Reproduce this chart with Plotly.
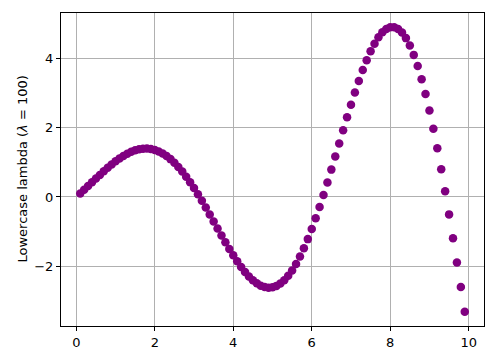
import plotly.graph_objects as go

x_values = [round(0.1 * i, 1) for i in range(1, 100)]
y_values = [
    0.102, 0.207, 0.314, 0.422, 0.530, 0.637, 0.741, 0.842, 0.938, 1.028,
    1.111, 1.185, 1.250, 1.304, 1.346, 1.377, 1.393, 1.396, 1.384, 1.356,
    1.314, 1.255, 1.181, 1.092, 0.987, 0.867, 0.733, 0.586, 0.427, 0.257,
    0.077, -0.111, -0.305, -0.504, -0.706, -0.909, -1.110, -1.308, -1.500, -1.684,
    -1.858, -2.019, -2.165, -2.294, -2.404, -2.493, -2.560, -2.602, -2.618, -2.607,
    -2.567, -2.500, -2.402, -2.276, -2.120, -1.935, -1.722, -1.482, -1.217, -0.928,
    -0.617, -0.287, 0.059, 0.419, 0.789, 1.166, 1.546, 1.925, 2.299, 2.664,
    3.016, 3.350, 3.662, 3.948, 4.204, 4.425, 4.610, 4.752, 4.850, 4.900,
    4.901, 4.850, 4.745, 4.585, 4.371, 4.101, 3.777, 3.400, 2.971, 2.493,
    1.970, 1.404, 0.800, 0.163, -0.503, -1.189, -1.891, -2.602, -3.314,
]
x_ticks = [0, 2, 4, 6, 8, 10]
y_ticks = [-2, 0, 2, 4]
y_label = "Lowercase lambda (<i>λ</i> = 100)"

fig = go.Figure(go.Scatter(
    x=x_values, y=y_values, mode="markers",
    marker=dict(color="#800080", size=8.5, line=dict(width=0)),
))

axis_common = dict(
    showgrid=True, gridcolor="#b0b0b0", gridwidth=1,
    showline=True, linecolor="black", linewidth=1, mirror=True,
    ticks="outside", ticklen=4, tickcolor="black", zeroline=False,
    tickfont=dict(family="DejaVu Sans", size=13, color="black"),
    automargin=False,
)
fig.update_xaxes(range=[-0.39, 10.39], tickvals=x_ticks, **axis_common)
fig.update_yaxes(range=[-3.725, 5.31], tickvals=y_ticks, **axis_common)
fig.add_annotation(
    text=y_label, textangle=-90, showarrow=False,
    xref="paper", yref="paper", x=(22 - 61) / 423, y=0.5,
    xanchor="center", yanchor="middle",
    font=dict(family="DejaVu Sans", size=13, color="black"),
)
fig.update_layout(
    width=500, height=355,
    margin=dict(l=61, r=16, t=13, b=29),
    plot_bgcolor="white", paper_bgcolor="white",
    showlegend=False,
)
fig.write_html("out.html")
